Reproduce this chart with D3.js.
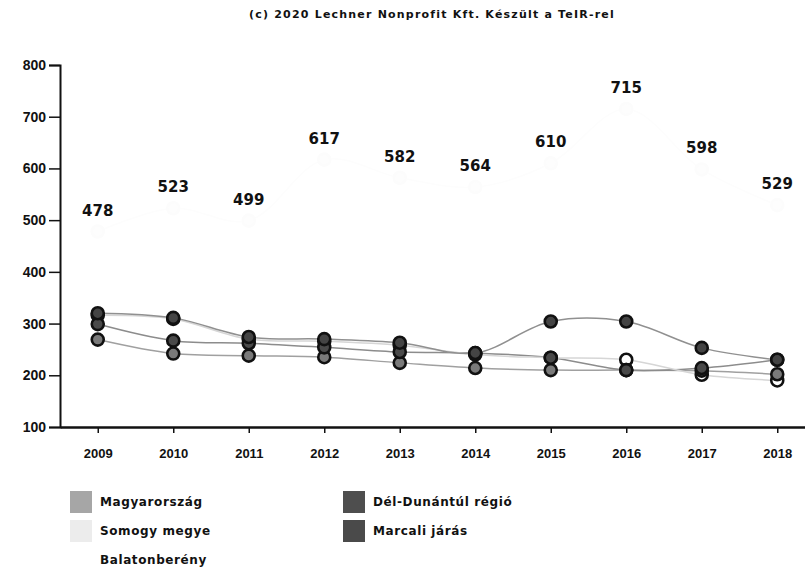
<!DOCTYPE html>
<html>
<head>
<meta charset="utf-8">
<script src="https://cdn.jsdelivr.net/npm/d3@7/dist/d3.min.js"></script>
<style>
  html, body { margin: 0; padding: 0; background: #fff; }
  svg { display: block; font-family: "DejaVu Sans", Verdana, sans-serif; }
</style>
</head>
<body>
<svg id="chart" width="805" height="567"></svg>
<script>
// Years on the horizontal axis
const years = ["2009", "2010", "2011", "2012", "2013", "2014", "2015", "2016", "2017", "2018"];

// Series names, in legend order
const seriesNames = ["Magyarország", "Dél-Dunántúl régió", "Somogy megye", "Marcali járás", "Balatonberény"];

// Values per series
const magyarorszag = [269, 242, 238, 235, 224, 214, 210, 210, 209, 202];
const delDunantul  = [299, 267, 262, 254, 245, 243, 234, 210, 214, 230];
const somogyMegye  = [316, 309, 270, 266, 258, 240, 234, 230, 201, 190];
const marcaliJaras = [320, 311, 274, 270, 263, 243, 304, 304, 253, 230];
const balatonbereny = [478, 523, 499, 617, 582, 564, 610, 715, 598, 529];

const yTicks = [100, 200, 300, 400, 500, 600, 700, 800];

const title = "(c) 2020 Lechner Nonprofit Kft. Készült a TeIR-rel";

// Styling per series
const fills   = ["#7a7a7a", "#4a4a4a", "#ffffff", "#444444", "#fdfdfd"];
const strokes = ["#a0a0a0", "#8c8c8c", "#d6d6d6", "#909090", "#fdfdfd"];
const swatch  = ["#a6a6a6", "#4e4e4e", "#ececec", "#4a4a4a", "#ffffff"];

const seriesValues = [magyarorszag, delDunantul, somogyMegye, marcaliJaras, balatonbereny];
const series = seriesNames.map((name, i) => ({ name, values: seriesValues[i], i }));

const svg = d3.select("#chart");

const x = d3.scalePoint().domain(years).range([60, 815]).padding(0.5);
const y = d3.scaleLinear().domain([100, 800]).range([427, 65]);

// Title
svg.append("text")
  .attr("x", 432).attr("y", 18)
  .attr("text-anchor", "middle")
  .attr("font-size", 11)
  .attr("font-weight", "bold")
  .attr("letter-spacing", 1.2)
  .attr("fill", "#111")
  .text(title);

// Axes
const yAxis = svg.append("g")
  .attr("transform", "translate(60,0)")
  .call(d3.axisLeft(y).tickValues(yTicks).tickSize(11).tickPadding(3).tickFormat(d3.format("d")));
yAxis.select(".domain").attr("stroke", "#111").attr("stroke-width", 2);
yAxis.selectAll(".tick line").attr("stroke", "#111").attr("stroke-width", 1.5);
yAxis.selectAll("text").attr("font-size", 14).attr("font-weight", "bold").attr("fill", "#111");

const xAxis = svg.append("g")
  .attr("transform", "translate(0,427)")
  .call(d3.axisBottom(x).tickSize(6).tickPadding(16).tickSizeOuter(0));
xAxis.select(".domain").attr("stroke", "#111").attr("stroke-width", 2.5);
xAxis.selectAll(".tick line").attr("stroke", "#111").attr("stroke-width", 1.5);
xAxis.selectAll("text").attr("font-size", 13).attr("font-weight", "bold").attr("fill", "#111");

// Lines
const line = d3.line()
  .x((d, j) => x(years[j]))
  .y(d => y(d))
  .curve(d3.curveCatmullRom.alpha(0.5));

svg.append("g").selectAll("path")
  .data(series)
  .join("path")
  .attr("d", s => line(s.values))
  .attr("fill", "none")
  .attr("stroke", s => strokes[s.i])
  .attr("stroke-width", 1.5);

// Markers: light county series underneath, then the others
const drawOrder = [4, 2, 0, 1, 3];
drawOrder.forEach(k => {
  const s = series[k];
  svg.append("g").selectAll("circle")
    .data(s.values)
    .join("circle")
    .attr("cx", (d, j) => x(years[j]))
    .attr("cy", d => y(d))
    .attr("r", 6)
    .attr("fill", fills[k])
    .attr("stroke", k === 4 ? "#fcfcfc" : "#111")
    .attr("stroke-width", 2.6);
});

// Value labels for the village series
svg.append("g").selectAll("text")
  .data(balatonbereny)
  .join("text")
  .attr("x", (d, j) => x(years[j]))
  .attr("y", d => y(d) - 16)
  .attr("text-anchor", "middle")
  .attr("font-size", 15)
  .attr("font-weight", "bold")
  .attr("fill", "#111")
  .text(d => d);

// Legend, two columns, row-major
const legend = svg.append("g");
series.forEach((s, i) => {
  const col = i % 2, row = Math.floor(i / 2);
  const lx = 70 + col * 273, ly = 491 + row * 29;
  legend.append("rect")
    .attr("x", lx).attr("y", ly)
    .attr("width", 22).attr("height", 22)
    .attr("fill", swatch[i]);
  legend.append("text")
    .attr("x", lx + 30).attr("y", ly + 15)
    .attr("font-size", 12)
    .attr("font-weight", "bold")
    .attr("letter-spacing", 0.6)
    .attr("fill", "#111")
    .text(s.name);
});
</script>
</body>
</html>
